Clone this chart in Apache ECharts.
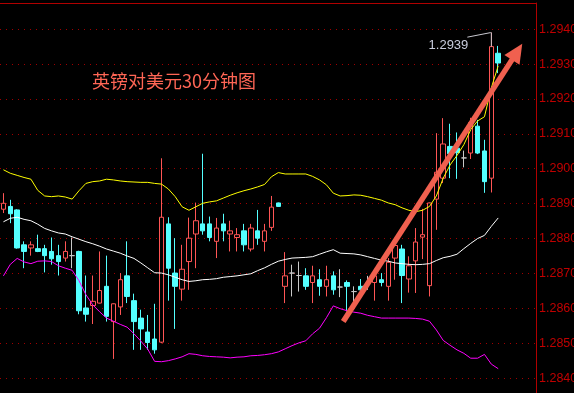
<!DOCTYPE html>
<html><head><meta charset="utf-8">
<script src="https://cdn.jsdelivr.net/npm/echarts@6/dist/echarts.min.js"></script>
<style>html,body{margin:0;padding:0;background:#000;overflow:hidden}#c{width:574px;height:393px;}</style>
</head><body><div id="c"></div>
<script>
const titleText = '英镑对美元30分钟图';
const opens = [1.28884,1.28892,1.28882,1.28782,1.28773,1.28771,1.28771,1.28763,1.28751,1.28744,
1.28751,1.28763,1.28601,1.28608,1.28615,1.28663,1.28562,1.28604,1.28693,1.28622,
1.28572,1.28532,1.28512,1.28503,1.28842,1.28701,1.28655,1.28734,1.28813,1.28842,
1.28842,1.28792,1.28842,1.28813,1.28803,1.28822,1.28770,1.28822,1.28792,1.28832,
1.28902,1.28663,1.28701,1.28694,1.28693,1.28674,1.28682,1.28663,1.28693,1.28661,
1.28674,1.28648,1.28663,1.28668,1.28674,1.28682,1.28663,1.28744,1.28770,1.28684,
1.28736,1.28804,1.28665,1.28913,1.28973,1.29064,1.29059,1.29031,1.29045,1.29122,
1.29051,1.28973,1.29331];
const closes = [1.28901,1.28871,1.28773,1.28763,1.28782,1.28763,1.28751,1.28742,1.28734,1.28763,
1.28751,1.28593,1.28583,1.28620,1.28651,1.28577,1.28613,1.28682,1.28634,1.28562,
1.28541,1.28502,1.28481,1.28861,1.28715,1.28663,1.28712,1.28801,1.28851,1.28822,
1.28803,1.28830,1.28822,1.28822,1.28811,1.28782,1.28830,1.28801,1.28822,1.28890,
1.28892,1.28693,1.28701,1.28694,1.28663,1.28693,1.28663,1.28682,1.28653,1.28661,
1.28663,1.28648,1.28653,1.28668,1.28693,1.28674,1.28732,1.28780,1.28694,1.28722,
1.28790,1.28811,1.28902,1.28990,1.29071,1.29043,1.29046,1.29031,1.29132,1.29045,
1.28963,1.29350,1.29303];
const lows = [1.28873,1.28844,1.28771,1.28715,1.28751,1.28761,1.28703,1.28725,1.28694,1.28734,
1.28715,1.28583,1.28562,1.28555,1.28614,1.28562,1.28455,1.28581,1.28615,1.28481,
1.28481,1.28481,1.28470,1.28500,1.28622,1.28541,1.28622,1.28653,1.28715,1.28811,
1.28792,1.28744,1.28792,1.28763,1.28763,1.28763,1.28763,1.28782,1.28763,1.28822,
1.28891,1.28615,1.28634,1.28648,1.28653,1.28615,1.28636,1.28634,1.28639,1.28632,
1.28591,1.28605,1.28629,1.28653,1.28622,1.28663,1.28622,1.28682,1.28615,1.28645,
1.28644,1.28741,1.28634,1.28825,1.28959,1.28973,1.28971,1.29004,1.29028,1.29042,
1.28931,1.28932,1.29274];
const highs = [1.28930,1.28911,1.28884,1.28792,1.28792,1.28811,1.28782,1.28803,1.28782,1.28792,
1.28803,1.28765,1.28694,1.28694,1.28763,1.28751,1.28614,1.28701,1.28792,1.28642,
1.28596,1.28581,1.28613,1.29030,1.28861,1.28801,1.28782,1.28860,1.28903,1.29043,
1.28863,1.28859,1.28871,1.28851,1.28830,1.28842,1.28842,1.28882,1.28842,1.28922,
1.28903,1.28761,1.28725,1.28734,1.28715,1.28722,1.28712,1.28722,1.28706,1.28712,
1.28680,1.28663,1.28684,1.28693,1.28701,1.28701,1.28744,1.28794,1.28782,1.28749,
1.28830,1.28885,1.28903,1.29102,1.29145,1.29129,1.29104,1.29052,1.29146,1.29140,
1.29083,1.29390,1.29352];
const upperBand = [1.28997,1.28987,1.28981,1.28975,1.28970,1.28938,1.28922,1.28920,1.28922,1.28919,
1.28913,1.28937,1.28958,1.28963,1.28965,1.28970,1.28968,1.28965,1.28963,1.28962,
1.28961,1.28961,1.28958,1.28956,1.28942,1.28920,1.28891,1.28881,1.28891,1.28901,
1.28905,1.28908,1.28916,1.28924,1.28931,1.28937,1.28942,1.28948,1.28955,1.28977,
1.28989,1.28985,1.28985,1.28985,1.28985,1.28978,1.28968,1.28954,1.28930,1.28922,
1.28923,1.28925,1.28924,1.28920,1.28915,1.28910,1.28902,1.28897,1.28888,1.28881,
1.28877,1.28881,1.28892,1.28922,1.28973,1.29011,1.29038,1.29069,1.29112,1.29137,
1.29149,1.29232,1.29295];
const midBand = [1.28848,1.28858,1.28861,1.28855,1.28851,1.28841,1.28829,1.28822,1.28816,1.28813,
1.28805,1.28798,1.28791,1.28785,1.28778,1.28770,1.28764,1.28758,1.28750,1.28743,
1.28730,1.28716,1.28702,1.28701,1.28696,1.28689,1.28682,1.28677,1.28679,1.28682,
1.28683,1.28685,1.28689,1.28691,1.28693,1.28696,1.28699,1.28708,1.28716,1.28726,
1.28735,1.28740,1.28744,1.28745,1.28746,1.28748,1.28755,1.28762,1.28768,1.28758,
1.28757,1.28756,1.28753,1.28748,1.28743,1.28738,1.28735,1.28730,1.28728,1.28726,
1.28725,1.28726,1.28728,1.28737,1.28745,1.28749,1.28755,1.28771,1.28786,1.28800,
1.28809,1.28835,1.28859];
const lowerBand = [1.28693,1.28726,1.28743,1.28733,1.28728,1.28735,1.28736,1.28734,1.28722,1.28715,
1.28709,1.28679,1.28639,1.28610,1.28590,1.28572,1.28563,1.28554,1.28546,1.28527,
1.28506,1.28483,1.28448,1.28447,1.28450,1.28455,1.28461,1.28470,1.28468,1.28464,
1.28462,1.28461,1.28460,1.28458,1.28460,1.28461,1.28464,1.28465,1.28467,1.28470,
1.28475,1.28484,1.28493,1.28501,1.28507,1.28527,1.28543,1.28573,1.28607,1.28599,
1.28593,1.28589,1.28586,1.28580,1.28576,1.28572,1.28572,1.28572,1.28572,1.28572,
1.28571,1.28569,1.28563,1.28538,1.28508,1.28494,1.28481,1.28471,1.28457,1.28457,
1.28468,1.28440,1.28427];
const yTickLabels = ['1.2840','1.2850','1.2860','1.2870','1.2880','1.2890','1.2900','1.2910','1.2920','1.2930','1.2940'];
const peakIndex = 71, peakValue = 1.2939, peakLabel = '1.2939';
const arrowFrom = [49.45, 1.28562];
const arrowTo = [75.5, 1.29358];
const slotCount = 78;

const categories = [];
for (let i = 0; i < slotCount; i++) categories.push(String(i));
const kData = opens.map((o, i) => [o, closes[i], lows[i], highs[i]]);

const chart = echarts.init(document.getElementById('c'), null, {renderer: 'canvas'});
const RED_AXIS = '#b00000';
chart.setOption({
  backgroundColor: '#000',
  animation: false,
  title: {
    text: titleText, left: 87, top: 67,
    textStyle: {color: '#ff6655', fontSize: 18, fontWeight: 'normal', fontFamily: 'Noto Sans CJK SC'}
  },
  grid: {left: 0, right: 38, top: 3, bottom: -20, containLabel: false, outerBoundsMode: 'none'},
  xAxis: {
    type: 'category', data: categories, position: 'top', boundaryGap: true,
    axisLine: {show: true, lineStyle: {color: RED_AXIS, width: 1}},
    axisTick: {show: false}, axisLabel: {show: false}, splitLine: {show: false}
  },
  yAxis: {
    type: 'value', position: 'right', min: 1.283, max: 1.29475, interval: 0.001, scale: true,
    axisLine: {show: true, lineStyle: {color: RED_AXIS, width: 1}},
    axisTick: {show: false},
    axisLabel: {
      color: '#c00000', fontSize: 12.5, fontFamily: 'Liberation Sans', margin: 3,
      verticalAlign: 'middle', padding: [6, 0, 0, 0],
      showMaxLabel: false, showMinLabel: false,
      formatter: v => {
        const s = v.toFixed(4);
        return yTickLabels.indexOf(s) >= 0 ? s : '';
      }
    },
    splitLine: {show: true, lineStyle: {color: '#a00000', width: 1, type: [1, 5]}}
  },
  series: [
    {
      type: 'candlestick', data: kData, barWidth: 5,
      itemStyle: {
        color: '#000', color0: '#54ffff',
        borderColor: '#ff5555', borderColor0: '#54ffff',
        borderColorDoji: '#c8c8c8', borderWidth: 1
      }
    },
    {type: 'line', data: upperBand, symbol: 'none', lineStyle: {color: '#ffff00', width: 1}, z: 3},
    {type: 'line', data: midBand, symbol: 'none', lineStyle: {color: '#ffffff', width: 1}, z: 3},
    {type: 'line', data: lowerBand, symbol: 'none', lineStyle: {color: '#ff00ff', width: 1}, z: 3}
  ]
});

const px0 = chart.convertToPixel({xAxisIndex: 0}, '0');
const px1 = chart.convertToPixel({xAxisIndex: 0}, '1');
const xPix = i => px0 + (px1 - px0) * i;
const yPix = v => chart.convertToPixel({yAxisIndex: 0}, v);

const sx = xPix(arrowFrom[0]), sy = yPix(arrowFrom[1]);
const tx = xPix(arrowTo[0]), ty = yPix(arrowTo[1]);
const dx = tx - sx, dy = ty - sy, len = Math.hypot(dx, dy);
const ux = dx / len, uy = dy / len, nx = -uy, ny = ux;
const headLen = 19, headHalf = 9;
const bx = tx - ux * headLen, by = ty - uy * headLen;
const ARROW = '#f0604f';

const hx = xPix(peakIndex), hy = yPix(peakValue);
const bodyTop = yPix(closes[peakIndex]);

chart.setOption({
  graphic: [
    {type: 'line', shape: {x1: sx, y1: sy, x2: bx + ux * 2, y2: by + uy * 2},
     style: {stroke: ARROW, lineWidth: 5.5, lineCap: 'butt'}, z: 100},
    {type: 'polygon', shape: {points: [[tx, ty], [bx + nx * headHalf, by + ny * headHalf], [bx - nx * headHalf, by - ny * headHalf]]},
     style: {fill: ARROW}, z: 100},
    {type: 'polyline', shape: {points: [[hx - 24, hy + 4.5], [hx - 1, hy], [hx, hy], [hx, bodyTop]]},
     style: {stroke: '#c8c8d0', lineWidth: 1, fill: null}, z: 101},
    {type: 'text', x: hx - 23, y: hy + 13, z: 101,
     style: {text: peakLabel, fill: '#c8ccdc', font: '13px "Liberation Sans"', align: 'right', verticalAlign: 'middle'}}
  ]
});
</script>
</body></html>
